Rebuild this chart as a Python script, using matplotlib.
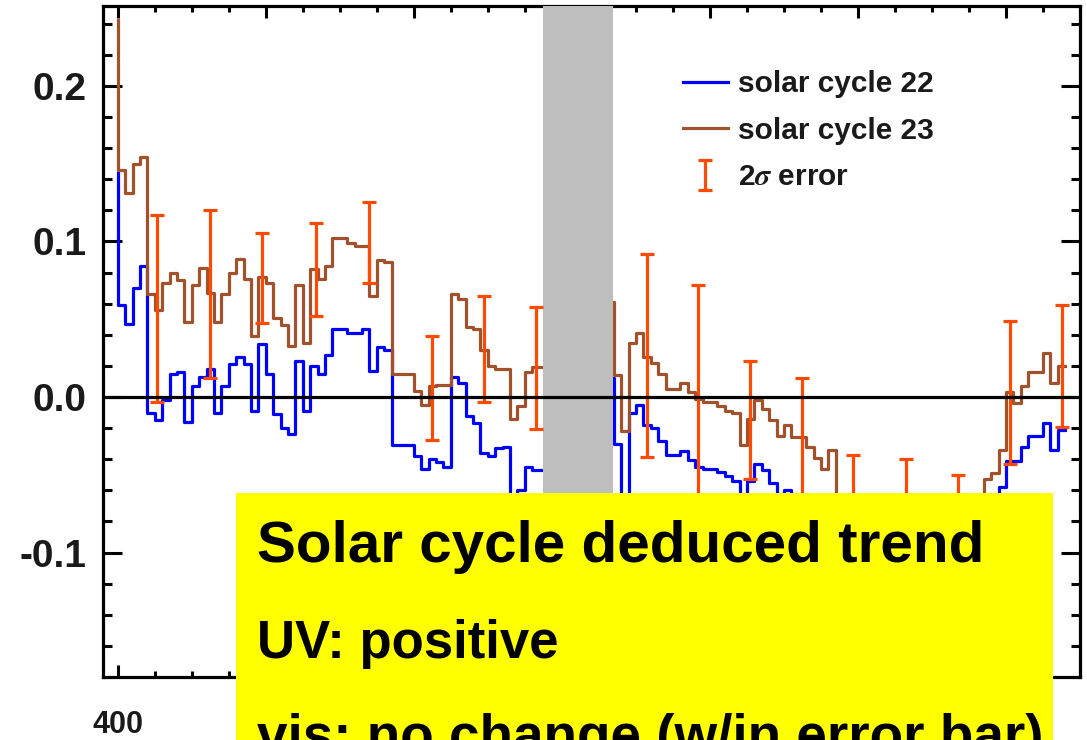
import numpy as np
import matplotlib
matplotlib.use('Agg')
import matplotlib.pyplot as plt
from matplotlib.patches import Rectangle
from matplotlib.ticker import MultipleLocator, FormatStrFormatter

plt.rcParams['font.family'] = ['Liberation Sans', 'DejaVu Sans']
plt.rcParams['font.weight'] = 'bold'
plt.rcParams['mathtext.fontset'] = 'stix'
plt.rcParams['axes.unicode_minus'] = False

# wavelength grid (nm), 5 nm bins; first point is the left edge
wl = np.arange(400, 1045, 5)

# solar cycle 22 (blue)
cycle22 = [0.144,
           0.059, 0.047, 0.070, 0.084, -0.0105, -0.015, -0.002, 0.015, 0.016, -0.016,
           0.007, 0.013, 0.018, -0.0105, 0.007, 0.021, 0.026, 0.021, -0.009, 0.034,
           0.015, -0.011, -0.020, -0.024, 0.023, -0.009, 0.020, 0.015, 0.027, 0.044,
           0.044, 0.041, 0.041, 0.044, 0.017, 0.032, 0.030, -0.031, -0.031, -0.031,
           -0.038, -0.046, -0.040, -0.042, -0.045, 0.013, 0.009, -0.012, -0.017, -0.036,
           -0.038, -0.033, -0.032, -0.068, -0.060, -0.045, -0.047, -0.047, -0.050, -0.044,
           -0.038, -0.030, -0.022, -0.015, -0.004, 0.006, 0.012, -0.030, -0.080, -0.0105,
           -0.005, -0.018, -0.020, -0.028, -0.037, -0.037, -0.035, -0.0405, -0.045, -0.046,
           -0.046, -0.048, -0.051, -0.054, -0.070, -0.054, -0.043, -0.047, -0.0555, -0.070,
           -0.060, -0.072, -0.078, -0.085, -0.090, -0.094, -0.098, -0.102, -0.105, -0.110,
           -0.108, -0.112, -0.115, -0.118, -0.114, -0.117, -0.120, -0.116, -0.112, -0.108,
           -0.110, -0.104, -0.098, -0.094, -0.090, -0.085, -0.080, -0.074, -0.068, -0.058,
           -0.041, -0.041, -0.032, -0.025, -0.025, -0.017, -0.034, -0.021]

# solar cycle 23 (brown)
cycle23 = [0.242,
           0.146, 0.131, 0.150, 0.154, 0.066, 0.056, 0.073, 0.080, 0.075, 0.048,
           0.072, 0.083, 0.067, 0.048, 0.066, 0.080, 0.089, 0.076, 0.039, 0.077,
           0.073, 0.051, 0.046, 0.033, 0.072, 0.035, 0.082, 0.076, 0.084, 0.102,
           0.102, 0.099, 0.097, 0.097, 0.065, 0.088, 0.087, 0.015, 0.015, 0.015,
           0.004, -0.005, 0.007, 0.008, 0.008, 0.066, 0.063, 0.045, 0.044, 0.030,
           0.020, 0.018, 0.018, -0.014, -0.006, 0.016, 0.019, 0.019, 0.022, 0.030,
           0.041, 0.035, 0.048, 0.052, 0.057, 0.060, 0.061, 0.014, -0.022, 0.035,
           0.041, 0.026, 0.022, 0.015, 0.005, 0.005, 0.009, 0.003, -0.001, -0.003,
           -0.003, -0.006, -0.009, -0.0105, -0.031, -0.014, -0.002, -0.008, -0.015, -0.025,
           -0.018, -0.026, -0.026, -0.032, -0.039, -0.046, -0.034, -0.068, -0.072, -0.075,
           -0.071, -0.078, -0.083, -0.080, -0.086, -0.090, -0.087, -0.093, -0.095, -0.091,
           -0.088, -0.092, -0.085, -0.081, -0.076, -0.070, -0.066, -0.053, -0.049, -0.034,
           0.003, -0.004, 0.007, 0.016, 0.016, 0.028, 0.009, 0.020]

# 2 sigma error bars
err_wl = [426.4, 462.2, 497.3, 533.8, 569.6, 612.2, 647.3, 682.4, 757.4,
          791.9, 827.0, 862.2, 896.6, 932.4, 967.6, 1002.7, 1037.8]
err_mid = [0.057, 0.066, 0.0765, 0.082, 0.099, 0.006, 0.031, 0.0186, 0.0266,
           -0.001, -0.015, -0.026, -0.072, -0.075, -0.083, 0.003, 0.020]
err_half = [0.060, 0.054, 0.029, 0.030, 0.026, 0.0335, 0.034, 0.039, 0.065,
            0.073, 0.038, 0.038, 0.035, 0.035, 0.033, 0.046, 0.039]

gap = (687.2, 734.5)

xtick_vals = [400, 500, 600, 700, 800, 900, 1000]
xtick_text = ['400', '', '', '', '', '', '']  # the rest sit under the yellow box

box_lines = ['Solar cycle deduced trend', 'UV: positive', 'vis: no change (w/in error bar)']
box_sizes = [42, 38, 39.5]
box_base = [178, 82, -13]   # baselines, px from figure bottom

fig = plt.figure(figsize=(10.87, 7.40), dpi=100)
ax = fig.add_axes([103 / 1087, 63 / 740, 977 / 1087, 671 / 740])

l22, = ax.plot(wl, cycle22, drawstyle='steps-pre', color='#0000ff', lw=2.3, zorder=2)
l23, = ax.plot(wl, cycle23, drawstyle='steps-pre', color='#a0522d', lw=2.3, zorder=2.1)
ax.axvspan(gap[0], gap[1], color='#bebebe', lw=0, zorder=3)
eb = ax.errorbar(err_wl, err_mid, yerr=err_half, fmt='none', ecolor='#ff4a00',
                 elinewidth=2.3, capsize=5, capthick=2.3, zorder=4)
ax.axhline(0, color='black', lw=2.3, zorder=5)

ax.set_xlim(390, 1050)
ax.set_ylim(-0.18, 0.2513)
ax.set_xticks(xtick_vals)
ax.set_xticklabels(xtick_text)
ax.xaxis.set_minor_locator(MultipleLocator(25))
ax.set_yticks([-0.1, 0.0, 0.1, 0.2])
ax.yaxis.set_minor_locator(MultipleLocator(0.02))
ax.yaxis.set_major_formatter(FormatStrFormatter('%.1f'))

ax.tick_params(axis='both', which='both', direction='in', top=True, right=True,
               width=2.2, color='black')
ax.tick_params(axis='x', which='major', length=8.6, pad=24, labelsize=22, labelcolor='#1a1a1a')
ax.tick_params(axis='x', which='minor', length=4.3)
ax.tick_params(axis='y', which='major', length=13.7, pad=12, labelsize=28, labelcolor='#1a1a1a')
ax.tick_params(axis='y', which='minor', length=6.8)
for s in ax.spines.values():
    s.set_linewidth(2.3)

leg = fig.legend([l22, l23, eb], ['solar cycle 22', 'solar cycle 23', r'2$\sigma$ error'],
                 loc='upper left', bbox_to_anchor=(683 / 1087, 1 - 70 / 740),
                 frameon=False, fontsize=21.5, handlelength=1.5, handletextpad=0.33,
                 labelspacing=0.62, borderpad=0, borderaxespad=0)
for t in leg.get_texts():
    t.set_color('#1a1a1a')

# yellow annotation box on top of the plot
fig.add_artist(Rectangle((236 / 1087, 0), (1053 - 236) / 1087, (740 - 493) / 740,
                         transform=fig.transFigure, facecolor='#ffff00',
                         edgecolor='none', zorder=10))
for line, size, base in zip(box_lines, box_sizes, box_base):
    fig.text(257 / 1087, base / 740, line, fontsize=size, fontweight='bold',
             color='black', va='baseline', ha='left', zorder=11)

fig.savefig('out.png', dpi=100)
